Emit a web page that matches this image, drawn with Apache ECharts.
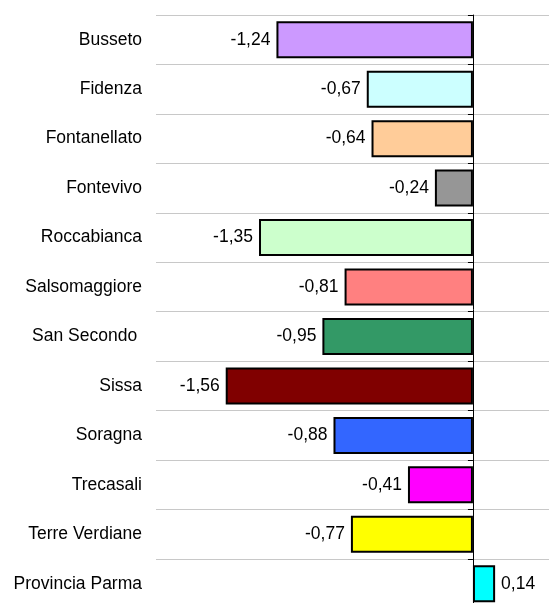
<!DOCTYPE html>
<html>
<head>
<meta charset="utf-8">
<script src="https://cdn.jsdelivr.net/npm/echarts@6/dist/echarts.min.js"></script>
<style>
  html, body { margin: 0; padding: 0; background: #fff; }
  #chart { width: 549px; height: 603px; }
</style>
</head>
<body>
<div id="chart"></div>
<script>
const categories = [
  'Busseto', 'Fidenza', 'Fontanellato', 'Fontevivo', 'Roccabianca', 'Salsomaggiore',
  'San Secondo ', 'Sissa', 'Soragna', 'Trecasali', 'Terre Verdiane', 'Provincia Parma'
]
const values = [-1.24, -0.67, -0.64, -0.24, -1.35, -0.81, -0.95, -1.56, -0.88, -0.41, -0.77, 0.14]
const barColors = [
  '#cc99ff', '#ccffff', '#ffcc99', '#969696', '#ccffcc', '#ff8080',
  '#339966', '#800000', '#3366ff', '#ff00ff', '#ffff00', '#00ffff'
]

const font = 'Liberation Sans, Arial, sans-serif'
const chart = echarts.init(document.getElementById('chart'))

chart.setOption({
  animation: false,
  grid: {
    left: 156,
    right: 0,
    top: 15,
    height: 593.5,
    containLabel: false,
    outerBoundsMode: 'none',
  },
  xAxis: {
    type: 'value',
    min: -2,
    max: 0.48,
    show: false,
  },
  yAxis: [
    {
      type: 'category',
      data: categories,
      inverse: true,
      axisLine: { show: false, onZero: false },
      axisTick: { show: false },
      axisLabel: { color: '#000', fontSize: 17.5, fontFamily: font, margin: 14 },
      splitLine: { show: true, lineStyle: { color: '#c8c8c8', width: 1 } },
    },
    {
      type: 'category',
      data: categories,
      inverse: true,
      position: 'left',
      axisLine: { show: true, onZero: true, lineStyle: { color: '#000', width: 1 } },
      axisTick: { show: true, length: 5, lineStyle: { color: '#000' } },
      axisLabel: { show: false },
      splitLine: { show: false },
    },
  ],
  series: [
    {
      type: 'bar',
      yAxisIndex: 0,
      barWidth: 37,
      data: values.map((v, i) => ({
        value: v,
        itemStyle: { color: barColors[i] },
        label: { position: v < 0 ? 'left' : 'right' },
      })),
      itemStyle: { borderColor: '#000', borderWidth: 2 },
      label: {
        show: true,
        distance: 6,
        color: '#000',
        fontSize: 17.5,
        fontFamily: font,
        formatter: (p) => String(p.value.toFixed(2)).replace('.', ','),
      },
      z: 1,
    },
  ],
})
</script>
</body>
</html>
